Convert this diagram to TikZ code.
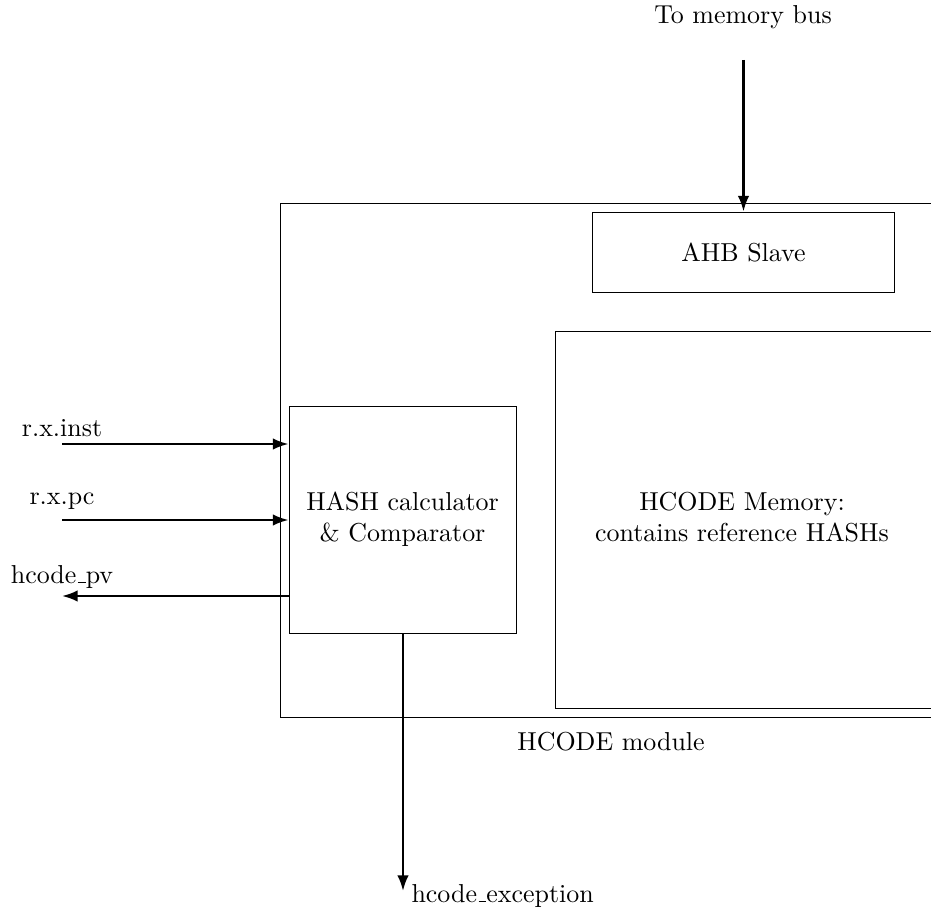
\documentclass[tikz,border=0pt]{standalone}
\usetikzlibrary{arrows.meta}
% low, narrow underscore as in classic TeX fonts
\newcommand\lowusc{\leavevmode\kern.06em\vbox{\hrule width.3em}}
\begin{document}
\begin{tikzpicture}[x=0.3855pt, y=-0.3855pt,
  blockbox/.style={draw, line width=0.35pt, inner sep=0pt},
  sig/.style={line width=0.9pt, -{Latex[length=6pt, width=4.4pt]}},
  lbl/.style={inner sep=0pt, font=\normalsize}]
  \useasboundingbox (0,0) rectangle (931,912);
  \clip (0,0) rectangle (931,912);

  % outer module frame and inner blocks
  \draw[line width=0.35pt] (280,203) rectangle (960,717);
  \node[blockbox, minimum width=302*0.3855pt, minimum height=80*0.3855pt,
        align=center] (ahb) at (743.5,252) {AHB Slave};
  \draw[line width=0.35pt] (555,331) rectangle (931.5,708);
  \node[lbl, align=center] (mem) at (742,517) {HCODE Memory:\\contains reference HASHs};
  \node[blockbox, minimum width=227*0.3855pt, minimum height=227*0.3855pt,
        align=center] (hash) at (402.5,519.5) {HASH calculator\\\& Comparator};
  \node[lbl] (modlbl) at (611,742) {HCODE module};

  % external signals
  \node[lbl] (bus) at (743,17) {To memory bus};
  \coordinate (busend) at (ahb.north |- 0,60);
  \draw[sig] (busend) -- (ahb.north);

  \node[lbl] (instlbl) at (62,428) {r.x.inst};
  \coordinate (inst) at (62,444);
  \draw[sig] (inst) -- (inst -| hash.west);

  \node[lbl] (pclbl) at (62,501) {r.x.pc};
  \coordinate (pc) at (62,520);
  \draw[sig] (pc) -- (pc -| hash.west);

  \node[lbl] (pvlbl) at (62,577) {hcode\lowusc pv};
  \coordinate (pv) at (62,596);
  \draw[sig] (pv -| hash.west) -- (pv);

  \coordinate (exc) at (403,891);
  \draw[sig] (exc |- hash.south) -- (exc);
  \node[lbl, anchor=west] (exclbl) at (411,896) {hcode\lowusc exception};
\end{tikzpicture}
\end{document}
